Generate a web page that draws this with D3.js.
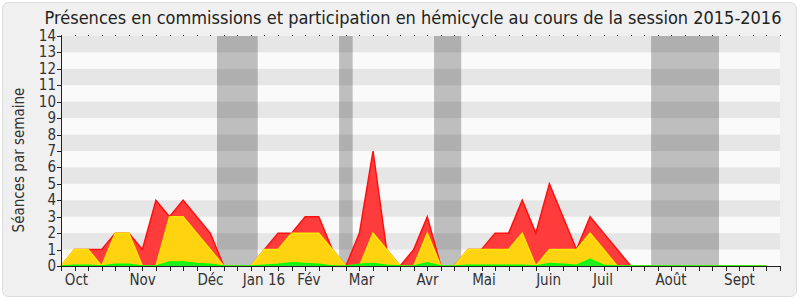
<!DOCTYPE html>
<html><head><meta charset="utf-8">
<script src="https://cdn.jsdelivr.net/npm/d3@7"></script>
<style>body{margin:0;background:#fff}svg{display:block;font-family:"DejaVu Sans Condensed","DejaVu Sans",sans-serif;font-stretch:condensed}</style>
</head><body><svg id="c" width="800" height="300"></svg>
<script>
const title = "Présences en commissions et participation en hémicycle au cours de la session 2015-2016";
const yLabel = "Séances par semaine";
// weekly values, week index 0..52
const red    = [0,1,1,1,2,2,1,4,3,4,3,2,0,0,0,1,2,2,3,3,1,0,2,7,1,0,1,3,0,0,1,1,2,2,4,2,5,3,1,3,2,1,0,0,0,0,0,0,0,0,0,0,0];
const yellow = [0,1,1,0,2,2,0,0,3,3,2,1,0,0,0,1,1,2,2,2,1,0,0,2,1,0,0,2,0,0,1,1,1,1,2,0,1,1,1,2,1,0,0,0,0,0,0,0,0,0,0,0,0];
const green  = [0,0.05,0.05,0,0.1,0.1,0,0,0.25,0.25,0.15,0.1,0,0,0,0.05,0.1,0.2,0.15,0.1,0,0,0.1,0.15,0.05,0,0,0.2,0,0,0.05,0.05,0.05,0.05,0.05,0,0.15,0.1,0.05,0.4,0.05,0,0,0,0,0,0,0,0,0,0,0,0];
const vacStart = [11.5, 20.5, 27.5, 43.5];
const vacEnd   = [14.5, 21.5, 29.5, 48.5];
const monthNames = ["Oct","Nov","Déc","Jan 16","Fév","Mar","Avr","Mai","Juin","Juil","Août","Sept"];
const monthPos   = [1.14, 6.02, 11.02, 14.96, 18.28, 22.15, 27.02, 31.18, 35.94, 39.95, 44.97, 50.01];
const yTicks = [0,1,2,3,4,5,6,7,8,9,10,11,12,13,14];
const weekTicks = [0,1,2,3,4,5,6,7,8,9,10,11,12,13,14,15,16,17,18,19,20,21,22,23,24,25,26,27,28,29,30,31,32,33,34,35,36,37,38,39,40,41,42,43,44,45,46,47,48,49,50,51,52,53];

const svg = d3.select("#c");
const L = 61, R = 780, T = 36, B = 266;
const x = d3.scaleLinear().domain([0, 53]).range([L, R]);
const y = d3.scaleLinear().domain([0, 14]).range([B, T]);

svg.append("rect").attr("x",2.5).attr("y",2.5).attr("width",794).attr("height",294).attr("rx",6)
  .attr("fill","#f0f0f0").attr("stroke","#dcdcdc");

svg.append("rect").attr("x",L).attr("y",T).attr("width",R-L).attr("height",B-T).attr("fill","#fafafa");
// vacations
svg.selectAll(".vac").data(vacStart).enter().append("rect")
  .attr("x",(d)=>x(d)).attr("y",T).attr("width",(d,i)=>x(vacEnd[i])-x(d)).attr("height",B-T).attr("fill","#bebebe");
// stripes
svg.selectAll(".stripe").data(yTicks.filter(v=>v%2===1)).enter().append("rect")
  .attr("x",L).attr("width",R-L).attr("y",d=>y(d+1)).attr("height",d=>y(d)-y(d+1))
  .attr("fill","rgba(0,0,0,0.08)");

function layer(vals, fill, stroke){
  const area = d3.area().x((d,i)=>x(i)).y0(y(0)).y1(d=>y(d));
  const line = d3.line().x((d,i)=>x(i)).y(d=>y(d));
  svg.append("path").datum(vals).attr("d",area).attr("fill",fill);
  svg.append("path").datum(vals).attr("d",line).attr("fill","none").attr("stroke",stroke).attr("stroke-width",1.5);
}
layer(red, "#ff3c3c", "#ff1010");
layer(yellow, "#ffd30f", "#ffe600");
layer(green, "#22ee22", "#00ff00");

// x axis
svg.append("line").attr("x1",L).attr("x2",R).attr("y1",B+0.5).attr("y2",B+0.5).attr("stroke","#222");
svg.selectAll(".xt").data(weekTicks).enter().append("line")
  .attr("x1",d=>Math.round(x(d))+0.5).attr("x2",d=>Math.round(x(d))+0.5).attr("y1",B).attr("y2",B+5).attr("stroke","#222");
svg.selectAll(".td").data(weekTicks).enter().append("rect")
  .attr("x",d=>Math.round(x(d))).attr("y",T-1).attr("width",1).attr("height",1).attr("fill","#222");
svg.selectAll(".xl").data(monthNames).enter().append("text")
  .attr("x",(d,i)=>x(monthPos[i])).attr("y",285).attr("text-anchor","middle")
  .attr("font-size",15).attr("fill","#333").text(d=>d);

// y axis
svg.append("line").attr("x1",L+0.5).attr("x2",L+0.5).attr("y1",T).attr("y2",B).attr("stroke","#222");
svg.selectAll(".yt").data(yTicks).enter().append("line")
  .attr("x1",L-4).attr("x2",L).attr("y1",d=>Math.round(y(d))+0.5).attr("y2",d=>Math.round(y(d))+0.5).attr("stroke","#222");
svg.selectAll(".yl").data(yTicks).enter().append("text")
  .attr("x",L-5).attr("y",d=>y(d)+5).attr("text-anchor","end")
  .attr("font-size",15).attr("fill","#333").text(d=>d);

svg.append("text").attr("transform","translate(24,160) rotate(-90)").attr("text-anchor","middle")
  .attr("font-size",15).attr("fill","#333").text(yLabel);
svg.append("text").attr("x",413).attr("y",24).attr("text-anchor","middle")
  .attr("font-size",18).attr("fill","#222").text(title);
</script></body></html>
